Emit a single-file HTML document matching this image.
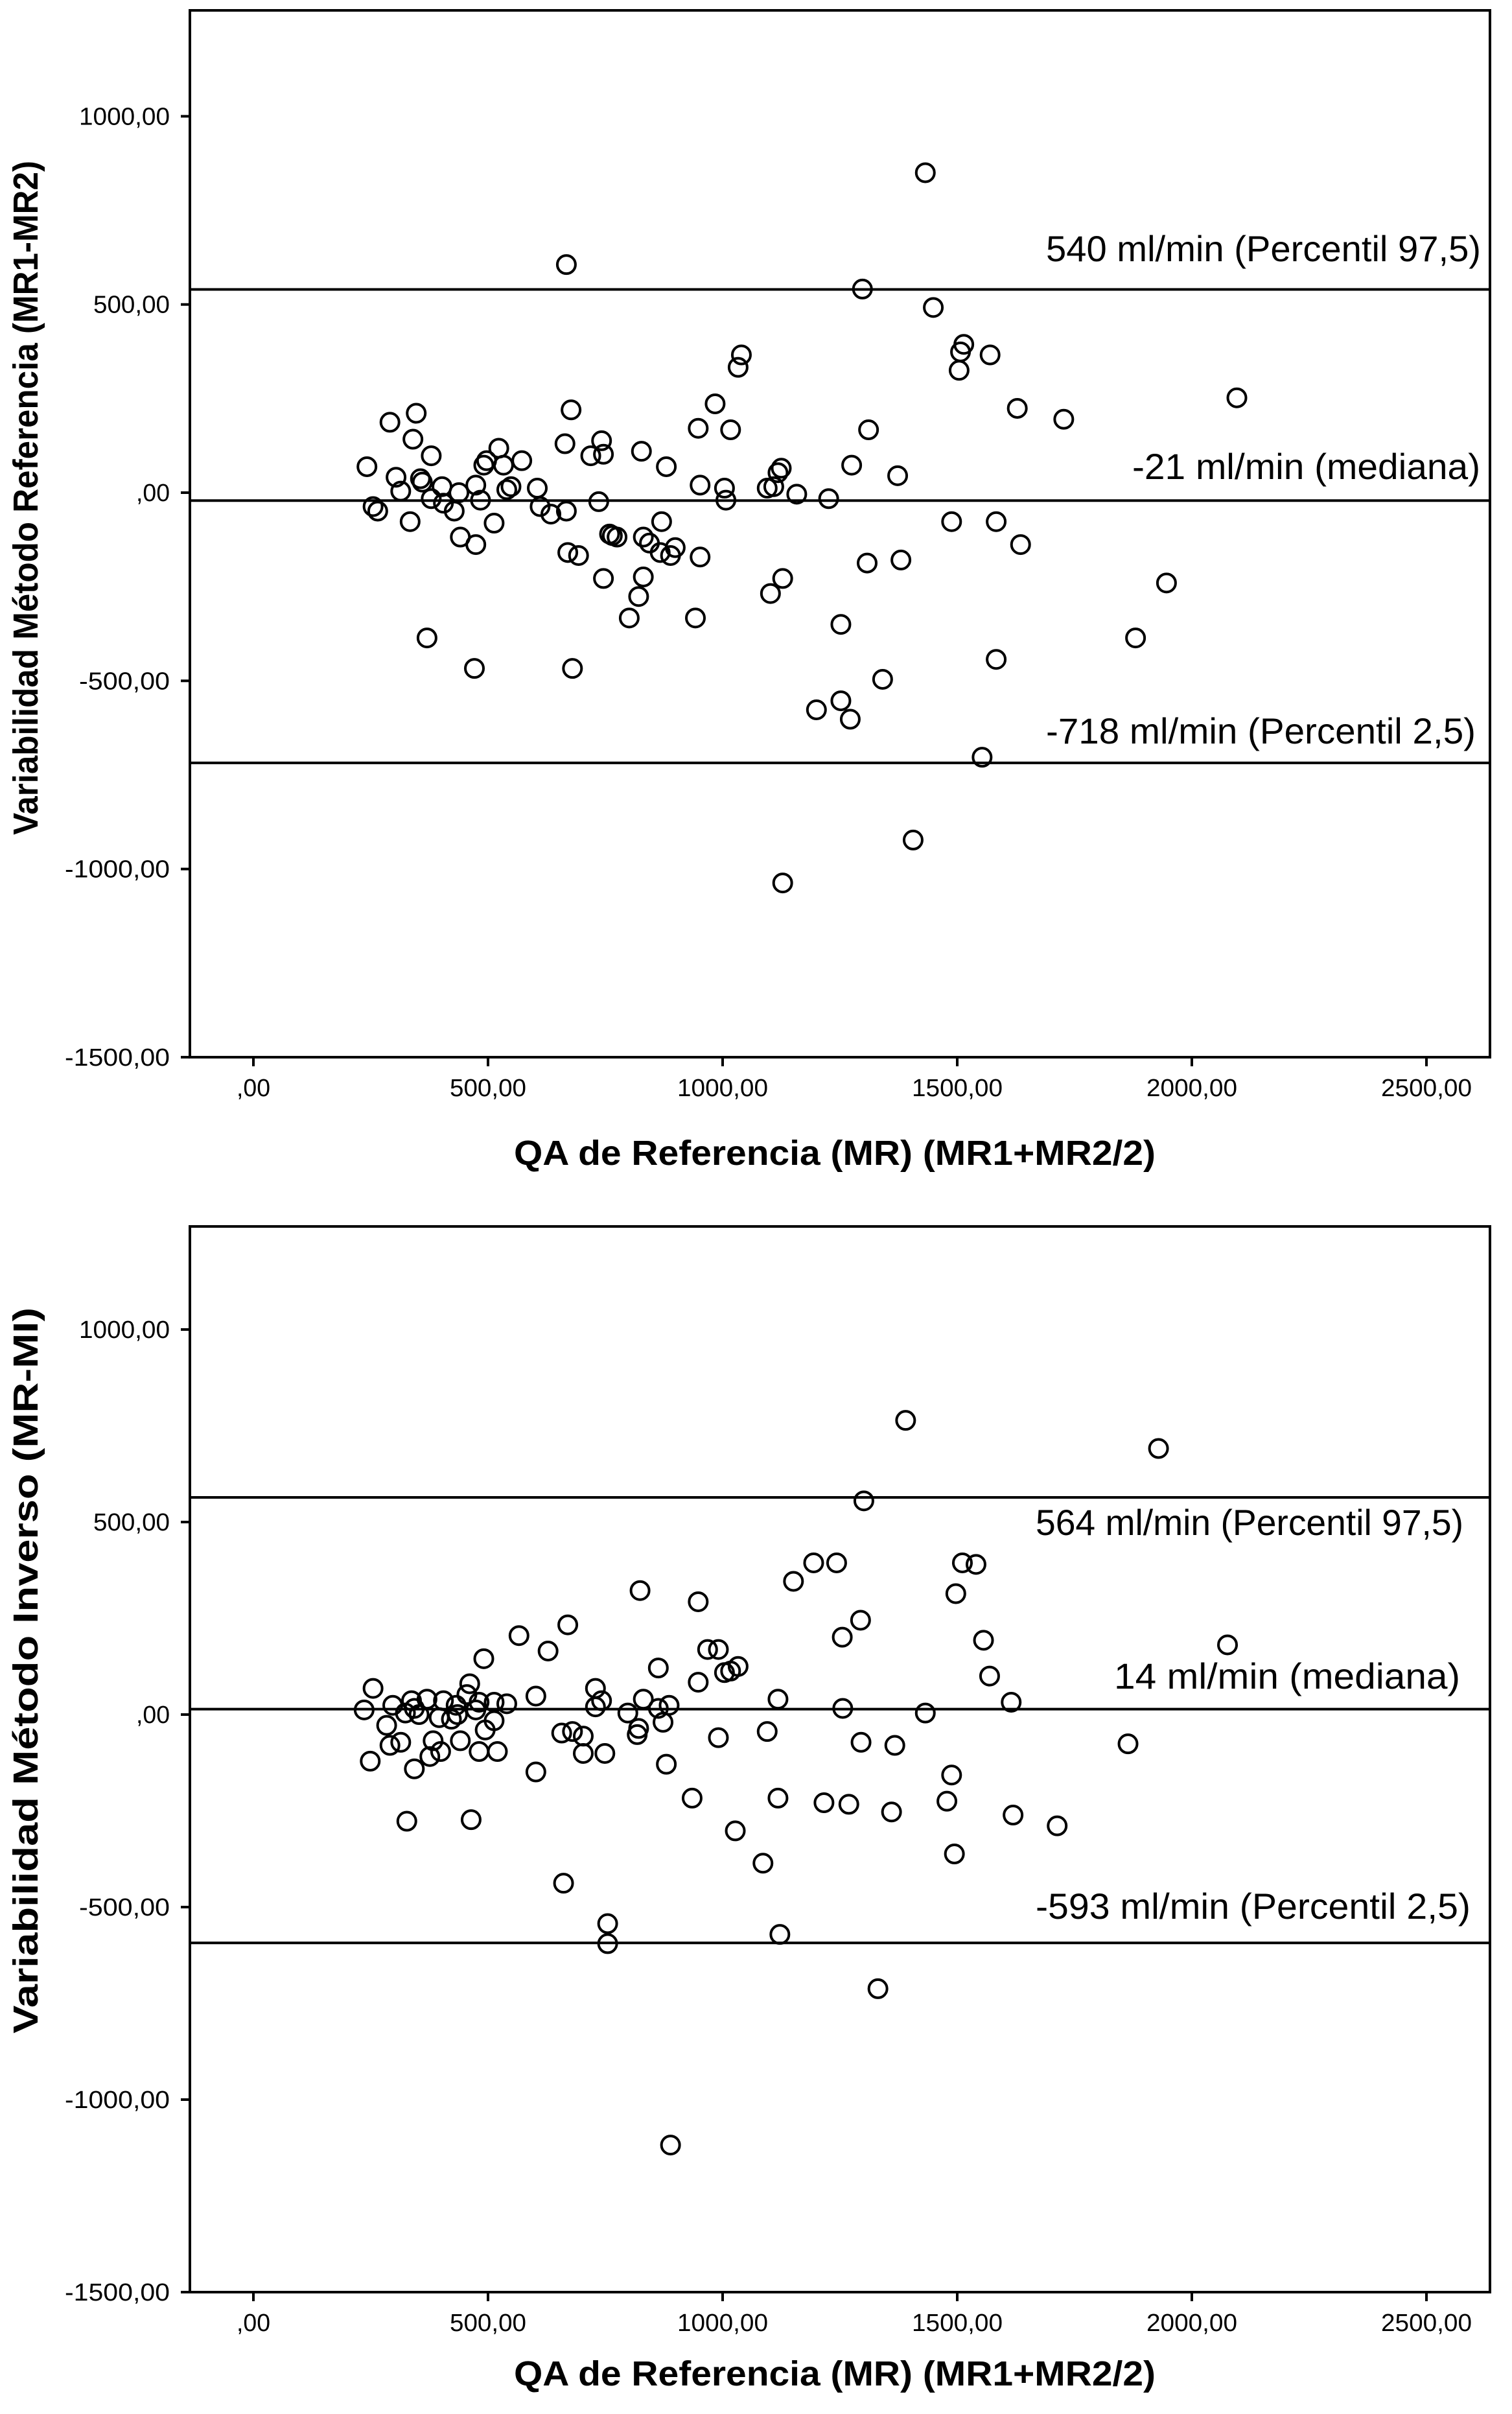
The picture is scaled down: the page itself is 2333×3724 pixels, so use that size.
<!DOCTYPE html>
<html><head><meta charset="utf-8"><style>
html,body{margin:0;padding:0;background:#fff;}
svg{display:block;}
text{font-family:"Liberation Sans",sans-serif;fill:#000;}
</style></head><body>
<svg id="s" width="2333" height="3724" viewBox="0 0 2333 3724" xmlns="http://www.w3.org/2000/svg"></svg>
<script>
// Chart 1 data (MR1-MR2)
const c1X = [1432,667,1298,1449,1514,1507,1504,1570,1040,1033,2096,1727,1628,984,948,1017,1311,677,347,291,340,379,742,719,746,523,533,572,664,827,880,1125,1275,1373,242,304,356,402,314,360,438,474,491,497,540,549,605,611,634,667,670,693,759,765,736,775,831,844,867,889,870,899,952,952,1004,1007,1095,1109,1118,1158,1226,1583,1635,255,265,334,379,405,428,441,474,484,513,746,831,821,801,942,1102,1128,1200,1252,1272,1252,1308,1380,1341,1488,1583,1880,1946,1553,1406,1128,370,471,680];
const c1Y = [850,606,541,492,394,374,325,366,366,333,252,195,224,236,171,167,167,220,211,187,142,98,138,98,102,118,73,85,130,110,69,65,73,45,69,41,37,16,4,28,0,20,73,85,8,16,12,-37,-57,-49,-159,-167,-110,-114,-24,-118,-118,-134,-159,-167,-77,-146,20,-171,12,-20,12,16,53,-4,-16,-77,-138,-37,-49,-77,-16,-28,-49,-118,-138,-20,-81,-228,-224,-276,-333,-333,-268,-228,-577,-553,-602,-350,-187,-179,-496,-77,-443,-386,-240,-703,-923,-1037,-386,-467,-467];
const c1Lines = [540,-21,-718];
const c1LineLabels = ["540 ml/min (Percentil 97,5)","-21 ml/min (mediana)","-718 ml/min (Percentil 2,5)"];
// Chart 2 data (MR-MI)
const c2X = [1390,1929,1301,2076,1511,1540,1194,1243,1151,824,948,1294,1255,1556,1569,1615,1497,670,566,628,968,991,948,1004,1017,1033,863,491,461,255,236,297,337,370,405,432,481,513,540,602,729,729,742,798,821,831,863,886,873,991,1095,1118,1256,1432,455,474,324,343,396,435,284,422,353,249,291,314,383,399,441,481,520,494,513,343,376,327,464,602,657,680,703,703,749,818,880,935,1027,1086,1118,1122,1216,1269,1295,1367,1360,1478,1488,1494,1619,1713,1864,661,755,755,1331,889];
const c2Y = [764,691,555,181,394,390,394,394,346,322,293,245,201,193,100,32,314,233,205,165,169,169,84,109,113,125,121,145,80,68,12,24,36,40,36,24,32,32,28,48,68,20,36,4,-36,40,16,24,-20,-60,-44,40,16,4,52,12,4,16,-8,0,-28,-12,0,-121,-80,-72,-68,-96,-68,-96,-96,-40,-16,-141,-109,-277,-273,-149,-48,-44,-56,-101,-101,-52,-129,-217,-302,-386,-217,-571,-229,-233,-72,-80,-253,-225,-157,-362,-261,-289,-76,-438,-543,-595,-712,-1118];
const c2Lines = [564,14,-593];
const c2LineLabels = ["564 ml/min (Percentil 97,5)","14 ml/min (mediana)","-593 ml/min (Percentil 2,5)"];
const yTicks = [1000,500,0,-500,-1000,-1500];
const yTickLabels = ["1000,00","500,00",",00","-500,00","-1000,00","-1500,00"];
const xTicks = [0,500,1000,1500,2000,2500];
const xTickLabels = [",00","500,00","1000,00","1500,00","2000,00","2500,00"];

const NS="http://www.w3.org/2000/svg";
const svg=document.getElementById('s');
function mk(tag,attrs,parent,txt){const e=document.createElementNS(NS,tag);for(const k in attrs)e.setAttribute(k,attrs[k]);if(txt!==undefined)e.textContent=txt;(parent||svg).appendChild(e);return e;}
function tlen(s){return s.replace(',','').length*22+8;}

function chart(cfg){
  const g=mk('g',{});
  
  
  const xs=v=>391+v*0.724;
  const ys=v=>cfg.y0-v*cfg.k;
  const L=293,R=2299,T=cfg.top,B=ys(-1500);
  const f=mk('rect',{x:L,y:T,width:R-L,height:B-T,fill:'none',stroke:'#000','stroke-width':4},g);
  
  
  yTicks.forEach((v,i)=>{
    const t=mk('line',{x1:L-14,x2:L,y1:ys(v),y2:ys(v),stroke:'#000','stroke-width':4},g);
    
    
    const tx=mk('text',{x:262,y:ys(v)+13,'text-anchor':'end','font-size':38,textLength:tlen(yTickLabels[i]),lengthAdjust:'spacingAndGlyphs'},g,yTickLabels[i]);
    
    
  });
  xTicks.forEach((v,i)=>{
    const t=mk('line',{x1:xs(v),x2:xs(v),y1:B,y2:B+14,stroke:'#000','stroke-width':4},g);
    
    
    const tx=mk('text',{x:xs(v),y:B+60,'text-anchor':'middle','font-size':38,textLength:tlen(xTickLabels[i]),lengthAdjust:'spacingAndGlyphs'},g,xTickLabels[i]);
    
    
  });
  cfg.lines.forEach((v,i)=>{
    const l=mk('line',{x1:L,x2:R,y1:ys(v),y2:ys(v),stroke:'#000','stroke-width':4},g);
    
    
    const lb=cfg.lab[i];
    const tx=mk('text',{x:lb[0],y:lb[1],'font-size':56,textLength:lb[2]-lb[0],lengthAdjust:'spacingAndGlyphs'},g,cfg.labels[i]);
    
    
  });
  cfg.xv.forEach((v,i)=>{
    const c=mk('circle',{cx:xs(v),cy:ys(cfg.yv[i]),r:14,fill:'none',stroke:'#000','stroke-width':4},g);
    
    
  });
  const xt=mk('text',{x:1288,y:cfg.xTitleY,'text-anchor':'middle','font-size':54,'font-weight':'bold',textLength:990,lengthAdjust:'spacingAndGlyphs'},g,'QA de Referencia (MR) (MR1+MR2/2)');
  
  
  const yt=mk('text',{x:0,y:0,'text-anchor':'middle','font-size':54,'font-weight':'bold',textLength:cfg.yTitleLen,lengthAdjust:'spacingAndGlyphs',transform:`translate(58,${cfg.yTitleY}) rotate(-90)`},g,cfg.yTitle);
  
  
}

chart({name:'chart-mr1-mr2',top:16,y0:760,k:0.5806,lines:c1Lines,labels:c1LineLabels,
  lab:[[1614,403,2285],[1747,739,2284],[1614,1147,2277]],xv:c1X,yv:c1Y,xTitleY:1797,
  yTitle:'Variabilidad Método Referencia (MR1-MR2)',yTitleY:768,yTitleLen:1040});
chart({name:'chart-mr-mi',top:1892,y0:2645,k:0.594,lines:c2Lines,labels:c2LineLabels,
  lab:[[1598,2368,2258],[1719,2605,2253],[1598,2960,2269]],xv:c2X,yv:c2Y,xTitleY:3680,
  yTitle:'Variabilidad Método Inverso (MR-MI)',yTitleY:2577,yTitleLen:1120});
</script>
</body></html>
